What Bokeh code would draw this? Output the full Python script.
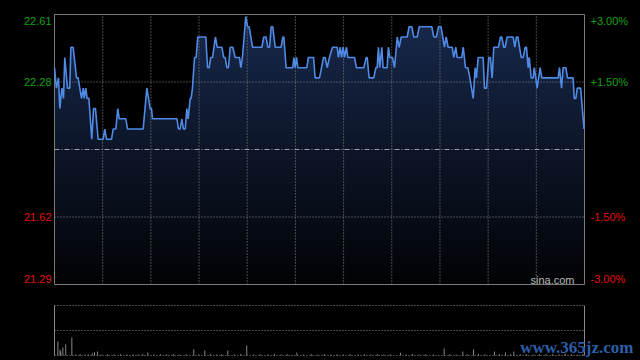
import numpy as np
from bokeh.plotting import figure
from bokeh.models import Range1d, ColumnDataSource
from bokeh.core.properties import value
from bokeh.embed import file_html
from bokeh.resources import INLINE

# ---------------- data ----------------
prev_close = 21.95
price_lo, price_hi = 21.29, 22.61
price_ticks = [21.29, 21.62, 22.28, 22.61]
price_labels = ["21.29", "21.62", "22.28", "22.61"]
pct_labels = ["-3.00%", "-1.50%", "+1.50%", "+3.00%"]
session_minutes = 330
time_grid = [30, 60, 90, 120, 150, 180, 210, 240, 270, 300]

t_min = [0, 1.2, 2.5, 3.3, 4.6, 5.6, 6.4, 8.1, 9.5, 10.2, 11.6, 13.7, 14.7, 16.8, 17.9, 18.5, 19.5, 20.3,
         21.4, 23.2, 24.3, 25.5, 27.2, 30.3, 31.3, 32.4, 35.5, 36.5, 38.2, 39.4, 40.3, 44.4, 45.5, 55.2,
         57.5, 59.6, 60.4, 61.0,
         76.2, 77.2, 78.2, 79.3, 80.3, 81.4, 82.4, 83.2, 84.5, 85.1, 85.9, 87.2, 88.2, 89.2, 94.2, 95.3,
         96.3, 97.3, 98.4, 100.2, 101.3, 104.2, 105.4, 106.3, 107.3, 108.3, 109.4, 111.0, 112.5, 115.2,
         116.0, 117.0, 119.1, 120.2, 121.2, 123.3, 129.1, 130.3, 131.7, 132.8,
         133.9, 134.9, 135.9, 137.4, 141.1, 142.2, 142.8, 144.2, 148.4, 149.0, 149.8, 150.7, 151.5, 157.1,
         158.1, 161.3, 162.3, 165.0, 167.5, 168.5, 169.8, 171.2, 173.1, 176.0, 176.8, 177.9, 178.7, 179.7,
         180.6, 181.8, 182.6, 186.8, 188.0, 192.6, 194.1, 194.7, 195.9, 198.8,
         200.1, 200.9, 201.7, 202.5, 203.8, 204.6, 207.1, 207.9, 208.8, 210.4, 211.7, 213.4, 214.6, 215.9,
         219.6, 220.8, 222.5, 223.7, 225.8, 227.1, 234.9, 236.2, 237.8, 239.1, 240.7, 242.8, 243.9, 245.1,
         247.6, 248.6, 249.9, 250.7, 253.6, 254.5, 255.9, 257.4, 258.6, 260.7, 261.9, 262.7, 263.8,
         266.9, 267.7, 269.0, 270.4, 271.4, 272.5, 273.5, 276.4, 277.7, 278.5, 279.7, 280.6, 281.8, 285.6,
         286.6, 287.6, 288.5, 290.6, 291.8, 293.1, 293.9, 294.9, 295.6, 296.8, 298.1, 298.7, 299.7, 300.5,
         302.4, 303.4, 313.6, 314.4, 315.7, 316.7, 318.4, 319.4, 322.9, 323.6, 324.6, 325.5, 327.6, 329.7]

price = [22.35, 22.25, 22.30, 22.15, 22.25, 22.20, 22.40, 22.25, 22.25, 22.45, 22.45, 22.30, 22.30, 22.20,
         22.25, 22.20, 22.25, 22.20, 22.20, 22.00, 22.15, 22.15, 22.00, 22.00, 22.05, 22.00, 22.00, 22.05,
         22.05, 22.15, 22.10, 22.10, 22.05, 22.05, 22.25, 22.15, 22.15, 22.10,
         22.10, 22.05, 22.05, 22.10, 22.05, 22.05, 22.15, 22.10, 22.20, 22.20, 22.25, 22.40, 22.40, 22.50,
         22.50, 22.35, 22.35, 22.40, 22.40, 22.50, 22.45, 22.45, 22.40, 22.40, 22.35, 22.35, 22.45, 22.45,
         22.40, 22.40, 22.35, 22.40, 22.60, 22.55, 22.55, 22.45, 22.45, 22.50, 22.50, 22.45,
         22.45, 22.55, 22.55, 22.45, 22.45, 22.50, 22.50, 22.35, 22.35, 22.40, 22.35, 22.40, 22.35, 22.35,
         22.40, 22.40, 22.30, 22.30, 22.40, 22.40, 22.35, 22.40, 22.45, 22.45, 22.40, 22.45, 22.40, 22.45,
         22.40, 22.45, 22.40, 22.40, 22.35, 22.35, 22.40, 22.40, 22.30, 22.30,
         22.35, 22.35, 22.45, 22.35, 22.45, 22.35, 22.35, 22.45, 22.40, 22.40, 22.35, 22.50, 22.45, 22.50,
         22.50, 22.55, 22.55, 22.50, 22.50, 22.55, 22.55, 22.50, 22.50, 22.55, 22.55, 22.45, 22.50, 22.45,
         22.45, 22.40, 22.45, 22.40, 22.40, 22.45, 22.35, 22.35, 22.30, 22.20, 22.35, 22.30, 22.40,
         22.40, 22.25, 22.25, 22.40, 22.40, 22.30, 22.45, 22.45, 22.50, 22.50, 22.45, 22.45, 22.50, 22.50,
         22.45, 22.50, 22.50, 22.40, 22.40, 22.45, 22.45, 22.35, 22.40, 22.30, 22.30, 22.35, 22.30, 22.25,
         22.35, 22.30, 22.30, 22.35, 22.25, 22.35, 22.35, 22.30, 22.30, 22.20, 22.20, 22.25, 22.25, 22.05]

vol_t = [2.1, 3.5, 3.9, 5.2, 7.0, 10.8, 13, 16, 19, 21, 23.5, 24.9, 26.8, 29, 33, 37, 41, 45, 49, 52, 55,
         58.1, 62, 66, 70, 74, 78, 82, 86.7, 90, 93.6, 97, 101, 104, 107.9, 112, 116, 119.7, 124, 128,
         133, 137, 141, 145, 150.9, 155, 160, 164, 168, 172, 176, 180, 184, 189, 193, 197, 201, 205, 209,
         215.4, 219, 223, 227, 231, 236, 242.6, 246, 250, 254.2, 257, 260.9, 264, 268, 273.9, 277, 280.8,
         284, 286, 290, 294, 298, 302, 306, 310, 314, 318, 322, 326, 329]
vol_v = [56, 23, 16, 32, 44, 72, 4, 6, 4, 5, 9, 13, 16, 4, 5, 4, 6, 4, 5, 4, 6,
         12, 4, 5, 4, 6, 4, 5, 24, 4, 20, 6, 4, 5, 20, 4, 6, 40, 4, 5,
         4, 6, 4, 5, 12, 4, 5, 4, 6, 4, 5, 4, 6, 4, 5, 4, 6, 4, 5,
         11, 4, 6, 4, 5, 4, 28, 5, 4, 16, 5, 24, 6, 5, 16, 6, 12,
         5, 16, 5, 6, 4, 5, 6, 5, 4, 6, 5, 4, 6]
vol_max = 200
vol_ticks = [0, 100, 200]

# ---------------- layout constants (pixels) ----------------
W, H = 640, 360
PL, PR = 54, 584          # price/volume panel left & right edges
PT, PB = 14, 284          # price panel top & bottom
VT, VB = 305, 355         # volume panel top & bottom

GREEN = "#12a012"
RED = "#e01010"
GRID = "#8a8a8a"
FONT = "Liberation Sans"

# scales chosen so the whole canvas is the frame
kx = session_minutes / (PR - PL)
ky = (price_hi - price_lo) / (PB - PT)
kv = vol_max / (VB - VT)
x_range = Range1d(-PL * kx, session_minutes + (W - PR) * kx)
y_range = Range1d(price_lo - (H - PB) * ky, price_hi + PT * ky)

p = figure(width=W, height=H, x_range=x_range, y_range=y_range,
           x_axis_type=None, y_axis_type=None, toolbar_location=None, output_backend="svg",
           min_border=0)
p.extra_y_ranges = {"vol": Range1d(0 - (H - VB) * kv, vol_max + VT * kv)}
p.background_fill_color = "black"
p.border_fill_color = "black"
p.outline_line_color = None
p.grid.visible = False

# area under the price line, darkened towards the bottom by a vertical gradient
p.varea(x=t_min, y1=price, y2=price_lo, fill_color="#18294c")
n_rows = PB - PT
alpha = np.linspace(240, 0, n_rows).astype(np.uint8)
rgba = np.zeros((n_rows, 2, 4), dtype=np.uint8)
rgba[:, :, 3] = alpha[:, None]
img = rgba.view(dtype=np.uint32).reshape((n_rows, 2))
p.image_rgba(image=[img], x=0, y=price_lo, dw=session_minutes, dh=price_hi - price_lo)

# grid lines of the price panel
p.segment(x0=time_grid, x1=time_grid, y0=price_lo, y1=price_hi,
          line_color=GRID, line_dash="1 2", line_width=1)
inner = [price_ticks[1], price_ticks[2]]
p.segment(x0=0, x1=session_minutes, y0=inner, y1=inner,
          line_color=GRID, line_dash="1 2", line_width=1)
p.segment(x0=[0], x1=[session_minutes], y0=[prev_close], y1=[prev_close],
          line_color="#9aa0a8", line_dash="5 2 1 2", line_width=1)

# panel frame
p.quad(left=[0], right=[session_minutes], bottom=[price_lo], top=[price_hi],
       fill_color=None, line_color="#7a7a7a", line_width=1)

# price line
p.line(t_min, price, line_color="#4f8ae6", line_width=1.6)

# tick labels
src = ColumnDataSource(dict(
    y=price_ticks, lab=price_labels, pct=pct_labels,
    col=[GREEN if v > prev_close else RED for v in price_ticks],
    off=[-6, 0, 0, 6],
    x0=[0] * 4, x1=[session_minutes] * 4,
))
p.text(x="x0", y="y", text="lab", source=src, x_offset=-3, y_offset="off", text_align="right",
       text_baseline="middle", text_color="col", text_font=value(FONT), text_font_size=value("11px"))
p.text(x="x1", y="y", text="pct", source=src, x_offset=6, y_offset="off", text_align="left",
       text_baseline="middle", text_color="col", text_font=value(FONT), text_font_size=value("11px"))

p.text(x=[session_minutes], y=[price_lo], text=["sina.com"], x_offset=-10, y_offset=-5,
       text_align="right", text_baseline="middle", text_color="#b8b8b8",
       text_font=value(FONT), text_font_size=value("11px"))

# ---------------- volume panel ----------------
p.segment(x0=0, x1=session_minutes, y0=vol_ticks, y1=vol_ticks, y_range_name="vol",
          line_color=GRID, line_dash="1 2", line_width=1)
p.segment(x0=[0, session_minutes], x1=[0, session_minutes], y0=0, y1=vol_max, y_range_name="vol",
          line_color="#8a8a8a", line_width=1)
p.vbar(x=vol_t, top=vol_v, bottom=0, width=0.6, y_range_name="vol",
       fill_color="#8c8c8c", line_color=None)

p.text(x=[session_minutes], y=[0], text=["www.365jz.com"], y_range_name="vol", x_offset=49, y_offset=-8,
       text_align="right", text_baseline="middle", text_color="#2c5ea8",
       text_font=value("Liberation Serif"), text_font_style="bold", text_font_size=value("17px"))

html = file_html(p, INLINE)
html = html.replace("<body>", "<body style=\"margin:0;background:black\">")
open("out.html", "w").write(html)
